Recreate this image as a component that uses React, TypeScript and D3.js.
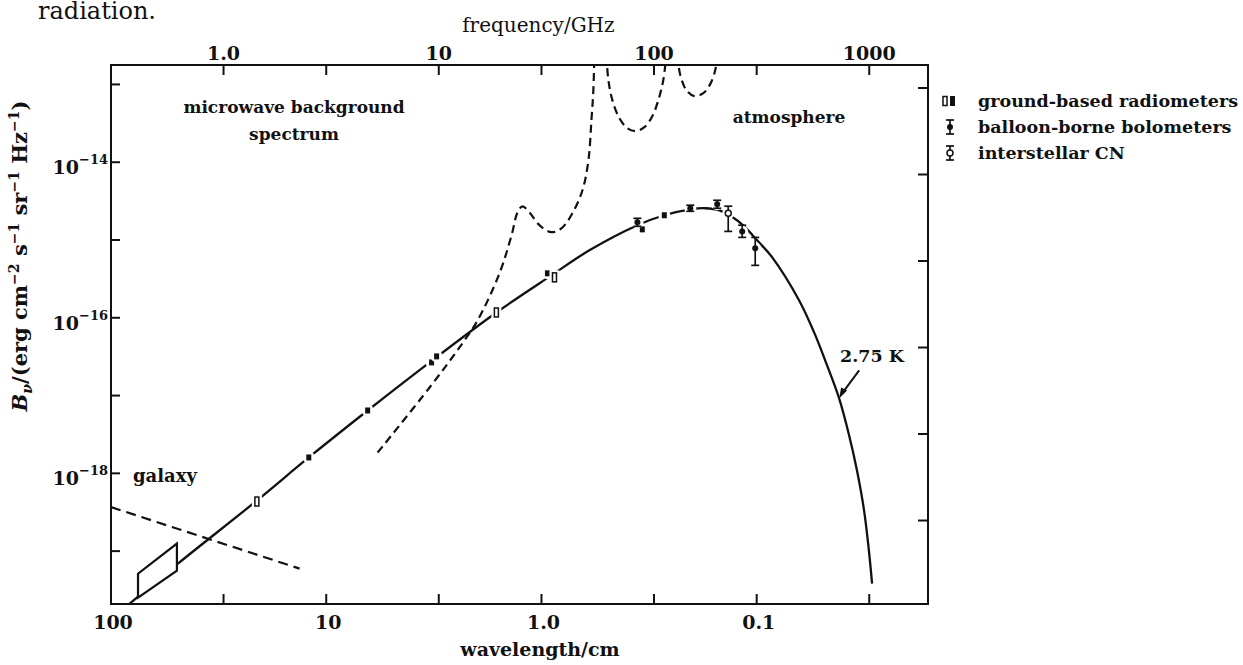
import * as d3 from "d3";

const WIDTH = 1243;
const HEIGHT = 665;
const FONT = "'DejaVu Serif', serif";

// 2.75 K blackbody curve: wavelength (cm) and B_nu (erg cm^-2 s^-1 sr^-1 Hz^-1)
const planckWavelength = [90.8, 48.9, 21.0, 12.05, 6.42, 3.17, 1.62, 0.899, 0.599, 0.358, 0.269, 0.2035, 0.1734, 0.149, 0.1313, 0.1143, 0.0995, 0.0847, 0.0635, 0.0541, 0.0471, 0.0414, 0.0372, 0.0342, 0.0317, 0.0301, 0.0291];
const planckValue = [1.66e-20, 6.9e-20, 4.47e-19, 1.6e-18, 6.43e-18, 2.92e-17, 1.17e-16, 3.51e-16, 7.37e-16, 1.55e-15, 2.08e-15, 2.48e-15, 2.56e-15, 2.41e-15, 2.02e-15, 1.5e-15, 9.9e-16, 5.98e-16, 1.67e-16, 6.49e-17, 2.44e-17, 9.18e-18, 3.07e-18, 1.09e-18, 3.32e-19, 1.01e-19, 3.82e-20];

// atmosphere emission (dashed), three pieces, they run off the top of the frame
const atmosWavelengthA = [5.77, 3.31, 2.33, 1.98, 1.567, 1.377, 1.292, 1.225, 1.137, 1.022, 0.899, 0.808, 0.718, 0.645, 0.605, 0.586, 0.574, 0.568];
const atmosValueA = [1.85e-18, 1.27e-17, 4.69e-17, 9.26e-17, 3.73e-16, 1.15e-15, 2.27e-15, 2.71e-15, 2.27e-15, 1.55e-15, 1.26e-15, 1.41e-15, 2.21e-15, 4.36e-15, 1.06e-14, 3.47e-14, 8.45e-14, 2.38e-13];
const atmosWavelengthB = [0.4994, 0.4887, 0.4684, 0.4345, 0.399, 0.3663, 0.3327, 0.3055, 0.2864, 0.2716, 0.263];
const atmosValueB = [2.38e-13, 1.14e-13, 6.28e-14, 3.68e-14, 2.74e-14, 2.51e-14, 2.82e-14, 3.91e-14, 6.28e-14, 1.14e-13, 2.38e-13];
const atmosWavelengthC = [0.234, 0.2265, 0.2123, 0.195, 0.177, 0.1644, 0.1558, 0.1526];
const atmosValueC = [2.38e-13, 1.32e-13, 8.45e-14, 7.07e-14, 7.73e-14, 1.01e-13, 1.53e-13, 2.38e-13];

// galaxy (dashed)
const galaxyWavelength = [100, 13.3];
const galaxyValue = [3.68e-19, 5.96e-20];

// galaxy-region measurement box: wavelengths, low / high values at each end
const boxWavelength = [74.9, 49.4];
const boxLow = [2.52e-20, 5.61e-20];
const boxHigh = [5.13e-20, 1.25e-19];

// ground-based radiometers
const openWavelength = [21.0, 1.62, 0.87];
const openValue = [4.34e-19, 1.17e-16, 3.31e-16];
const filledWavelength = [12.05, 6.42, 3.24, 3.07, 0.938, 0.34, 0.2687];
const filledValue = [1.6e-18, 6.43e-18, 2.67e-17, 3.19e-17, 3.73e-16, 1.37e-15, 2.08e-15];

// balloon-borne bolometers
const balloonWavelength = [0.3584, 0.2035, 0.1526, 0.1168, 0.1016];
const balloonValue = [1.69e-15, 2.56e-15, 2.88e-15, 1.29e-15, 7.82e-16];
const balloonLow = [1.5e-15, 2.34e-15, 2.56e-15, 1.08e-15, 4.72e-16];
const balloonHigh = [1.9e-15, 2.8e-15, 3.24e-15, 1.55e-15, 1.08e-15];

// interstellar CN
const cnWavelength = [0.1356];
const cnValue = [2.21e-15];
const cnLow = [1.29e-15];
const cnHigh = [2.72e-15];

// axes
const wavelengthTicks = [100, 30, 10, 3, 1, 0.3, 0.1, 0.03];
const wavelengthLabels = ["100", "", "10", "", "1.0", "", "0.1", ""];
const frequencyTicks = [1, 3, 10, 30, 100, 300, 1000];
const frequencyLabels = ["1.0", "", "10", "", "100", "", "1000"];
const valueTicks = [1e-13, 1e-14, 1e-15, 1e-16, 1e-17, 1e-18, 1e-19];
const valueLabels = ["", "−14", "", "−16", "", "−18", ""];
const rightTicks = [1, 0.1, 0.01, 1e-3, 1e-4, 1e-5];

const legendItems = ["ground-based radiometers", "balloon-borne bolometers", "interstellar CN"];

const plotLeft = 111;
const plotRight = 928;
const plotTop = 65;
const plotBottom = 604;

const zip = (xs: number[], ys: number[]) => xs.map((w, i) => ({ w, v: ys[i] }));

export default function App() {
  const x = d3.scaleLog().domain([100, 0.016]).range([plotLeft, plotRight]);
  const y = d3.scaleLog().domain([1.778e-13, 2.09e-20]).range([plotTop, plotBottom]);
  const xTop = d3.scaleLog().domain([30 / 100, 30 / 0.016]).range([plotLeft, plotRight]);
  const yRight = d3.scaleLog().domain([1.845, 1.084e-6]).range([plotTop, plotBottom]);

  const line = d3
    .line<{ w: number; v: number }>()
    .x((d) => x(d.w))
    .y((d) => y(d.v))
    .curve(d3.curveCatmullRom.alpha(0.5));
  const straight = d3
    .line<{ w: number; v: number }>()
    .x((d) => x(d.w))
    .y((d) => y(d.v));

  const planck = zip(planckWavelength, planckValue);
  const atmos = [
    zip(atmosWavelengthA, atmosValueA),
    zip(atmosWavelengthB, atmosValueB),
    zip(atmosWavelengthC, atmosValueC),
  ];

  const boxPath =
    `M${x(boxWavelength[0])},${y(boxLow[0])}` +
    `L${x(boxWavelength[0])},${y(boxHigh[0])}` +
    `L${x(boxWavelength[1])},${y(boxHigh[1])}` +
    `L${x(boxWavelength[1])},${y(boxLow[1])}Z`;

  // arrow for the 2.75 K label, tip sits on the curve
  const tipX = x(0.0414);
  const tipY = y(9.18e-18);

  const black = "#111";

  const errBar = (cx: number, lo: number, hi: number, key: string) => (
    <g key={key} stroke={black} strokeWidth={1.7}>
      <line x1={cx} x2={cx} y1={lo} y2={hi} />
      <line x1={cx - 4} x2={cx + 4} y1={lo} y2={lo} />
      <line x1={cx - 4} x2={cx + 4} y1={hi} y2={hi} />
    </g>
  );

  return (
    <svg
      width={WIDTH}
      height={HEIGHT}
      style={{ position: "absolute", left: 0, top: 0, background: "#fff" }}
      fontFamily={FONT}
    >
      <defs>
        <clipPath id="plotClip">
          <rect x={plotLeft} y={plotTop} width={plotRight - plotLeft} height={plotBottom - plotTop} />
        </clipPath>
      </defs>

      <text x={38} y={19} fontSize={24} fill={black}>radiation.</text>

      {/* top axis */}
      <text x={(xTop(1) + xTop(1000)) / 2 - 8} y={32} fontSize={20} textAnchor="middle" fill={black}>
        frequency/GHz
      </text>
      {frequencyTicks.map((t, i) => (
        <g key={`ft-${t}`}>
          <line x1={xTop(t)} x2={xTop(t)} y1={plotTop} y2={plotTop + 10} stroke={black} strokeWidth={2} />
          {frequencyLabels[i] && (
            <text x={xTop(t)} y={60} fontSize={19} fontWeight="bold" textAnchor="middle" fill={black}>
              {frequencyLabels[i]}
            </text>
          )}
        </g>
      ))}

      {/* bottom axis */}
      {wavelengthTicks.map((t, i) => (
        <g key={`wt-${t}`}>
          <line x1={x(t)} x2={x(t)} y1={plotBottom} y2={plotBottom - 10} stroke={black} strokeWidth={2} />
          {wavelengthLabels[i] && (
            <text x={x(t) + 2} y={629} fontSize={19} fontWeight="bold" textAnchor="middle" fill={black}>
              {wavelengthLabels[i]}
            </text>
          )}
        </g>
      ))}
      <text x={540} y={656} fontSize={19} fontWeight="bold" textAnchor="middle" fill={black}>
        wavelength/cm
      </text>

      {/* left axis */}
      {valueTicks.map((t, i) => (
        <g key={`vt-${t}`}>
          <line x1={plotLeft} x2={plotLeft + 9} y1={y(t)} y2={y(t)} stroke={black} strokeWidth={2} />
          {valueLabels[i] && (
            <text x={plotLeft - 3} y={y(t) + 12} fontSize={19} fontWeight="bold" textAnchor="end" fill={black}>
              10
              <tspan dy={-10} fontSize={13}>{valueLabels[i]}</tspan>
            </text>
          )}
        </g>
      ))}
      <text
        transform={`translate(27, 256) rotate(-90)`}
        fontSize={21}
        fontWeight="bold"
        textAnchor="middle"
        fill={black}
      >
        <tspan fontStyle="italic">B</tspan>
        <tspan fontStyle="italic" fontSize={14} dy={5}>ν</tspan>
        <tspan dy={-5}>/(erg cm</tspan>
        <tspan fontSize={14} dy={-8}>−2</tspan>
        <tspan dy={8}> s</tspan>
        <tspan fontSize={14} dy={-8}>−1</tspan>
        <tspan dy={8}> sr</tspan>
        <tspan fontSize={14} dy={-8}>−1</tspan>
        <tspan dy={8}> Hz</tspan>
        <tspan fontSize={14} dy={-8}>−1</tspan>
        <tspan dy={8}>)</tspan>
      </text>

      {/* right axis ticks (no labels) */}
      {rightTicks.map((t) => (
        <line
          key={`rt-${t}`}
          x1={plotRight}
          x2={plotRight - 10}
          y1={yRight(t)}
          y2={yRight(t)}
          stroke={black}
          strokeWidth={2}
        />
      ))}

      <g clipPath="url(#plotClip)">
        {/* blackbody */}
        <path d={line(planck) ?? ""} fill="none" stroke={black} strokeWidth={2.3} />

        {/* galaxy */}
        <path
          d={straight(zip(galaxyWavelength, galaxyValue)) ?? ""}
          fill="none"
          stroke={black}
          strokeWidth={2.2}
          strokeDasharray="10 6"
        />

        {/* atmosphere */}
        {atmos.map((seg, i) => (
          <path
            key={`atm-${i}`}
            d={line(seg) ?? ""}
            fill="none"
            stroke={black}
            strokeWidth={2.2}
            strokeDasharray="8 5"
          />
        ))}

        <path d={boxPath} fill="#fff" stroke={black} strokeWidth={2.2} />

        {/* ground-based radiometers */}
        {filledWavelength.map((w, i) => (
          <g key={`fill-${i}`}>
            <circle cx={x(w)} cy={y(filledValue[i])} r={6} fill="#fff" />
            <rect x={x(w) - 2.5} y={y(filledValue[i]) - 3} width={5} height={6} fill={black} />
          </g>
        ))}
        {openWavelength.map((w, i) => (
          <g key={`open-${i}`}>
            <rect x={x(w) - 5} y={y(openValue[i]) - 7} width={10} height={14} fill="#fff" />
            <rect
              x={x(w) - 2}
              y={y(openValue[i]) - 4.5}
              width={4}
              height={9}
              fill="#fff"
              stroke={black}
              strokeWidth={1.5}
            />
          </g>
        ))}

        {/* balloon-borne bolometers */}
        {balloonWavelength.map((w, i) => (
          <g key={`bal-${i}`}>
            <circle cx={x(w)} cy={y(balloonValue[i])} r={6} fill="#fff" />
            {errBar(x(w), y(balloonLow[i]), y(balloonHigh[i]), `be-${i}`)}
            <circle cx={x(w)} cy={y(balloonValue[i])} r={3} fill={black} />
          </g>
        ))}

        {/* interstellar CN */}
        {cnWavelength.map((w, i) => (
          <g key={`cn-${i}`}>
            <circle cx={x(w)} cy={y(cnValue[i])} r={6} fill="#fff" />
            {errBar(x(w), y(cnLow[i]), y(cnHigh[i]), `ce-${i}`)}
            <circle cx={x(w)} cy={y(cnValue[i])} r={3} fill="#fff" stroke={black} strokeWidth={1.5} />
          </g>
        ))}
      </g>

      {/* frame */}
      <rect
        x={plotLeft}
        y={plotTop}
        width={plotRight - plotLeft}
        height={plotBottom - plotTop}
        fill="none"
        stroke={black}
        strokeWidth={2}
      />

      {/* annotations */}
      <text x={294} y={113} fontSize={17} fontWeight="bold" textAnchor="middle" fill={black}>
        microwave background
      </text>
      <text x={294} y={140} fontSize={17} fontWeight="bold" textAnchor="middle" fill={black}>
        spectrum
      </text>
      <text x={789} y={123} fontSize={17} fontWeight="bold" textAnchor="middle" fill={black}>
        atmosphere
      </text>
      <text x={133} y={482} fontSize={18} fontWeight="bold" fill={black}>
        galaxy
      </text>
      <text x={872} y={362} fontSize={17.5} fontWeight="bold" textAnchor="middle" fill={black}>
        2.75 K
      </text>
      <line x1={tipX + 20} y1={tipY - 28} x2={tipX + 3} y2={tipY - 5} stroke={black} strokeWidth={2} />
      <path
        d={`M${tipX},${tipY} L${tipX + 2},${tipY - 11} L${tipX + 8},${tipY - 8} Z`}
        fill={black}
      />

      {/* legend */}
      {legendItems.map((label, i) => {
        const cy = 101 + i * 26;
        return (
          <g key={label}>
            {i === 0 && (
              <g>
                <rect x={943} y={cy - 4.5} width={4} height={9} fill="#fff" stroke={black} strokeWidth={1.5} />
                <rect x={950} y={cy - 5} width={5} height={10} fill={black} />
              </g>
            )}
            {i === 1 && (
              <g>
                {errBar(950, cy - 7, cy + 7, "lb")}
                <circle cx={950} cy={cy} r={3} fill={black} />
              </g>
            )}
            {i === 2 && (
              <g>
                {errBar(950, cy - 7, cy + 7, "lc")}
                <circle cx={950} cy={cy} r={3} fill="#fff" stroke={black} strokeWidth={1.5} />
              </g>
            )}
            <text x={978} y={cy + 6} fontSize={17.5} fontWeight="bold" fill={black}>
              {label}
            </text>
          </g>
        );
      })}
    </svg>
  );
}
